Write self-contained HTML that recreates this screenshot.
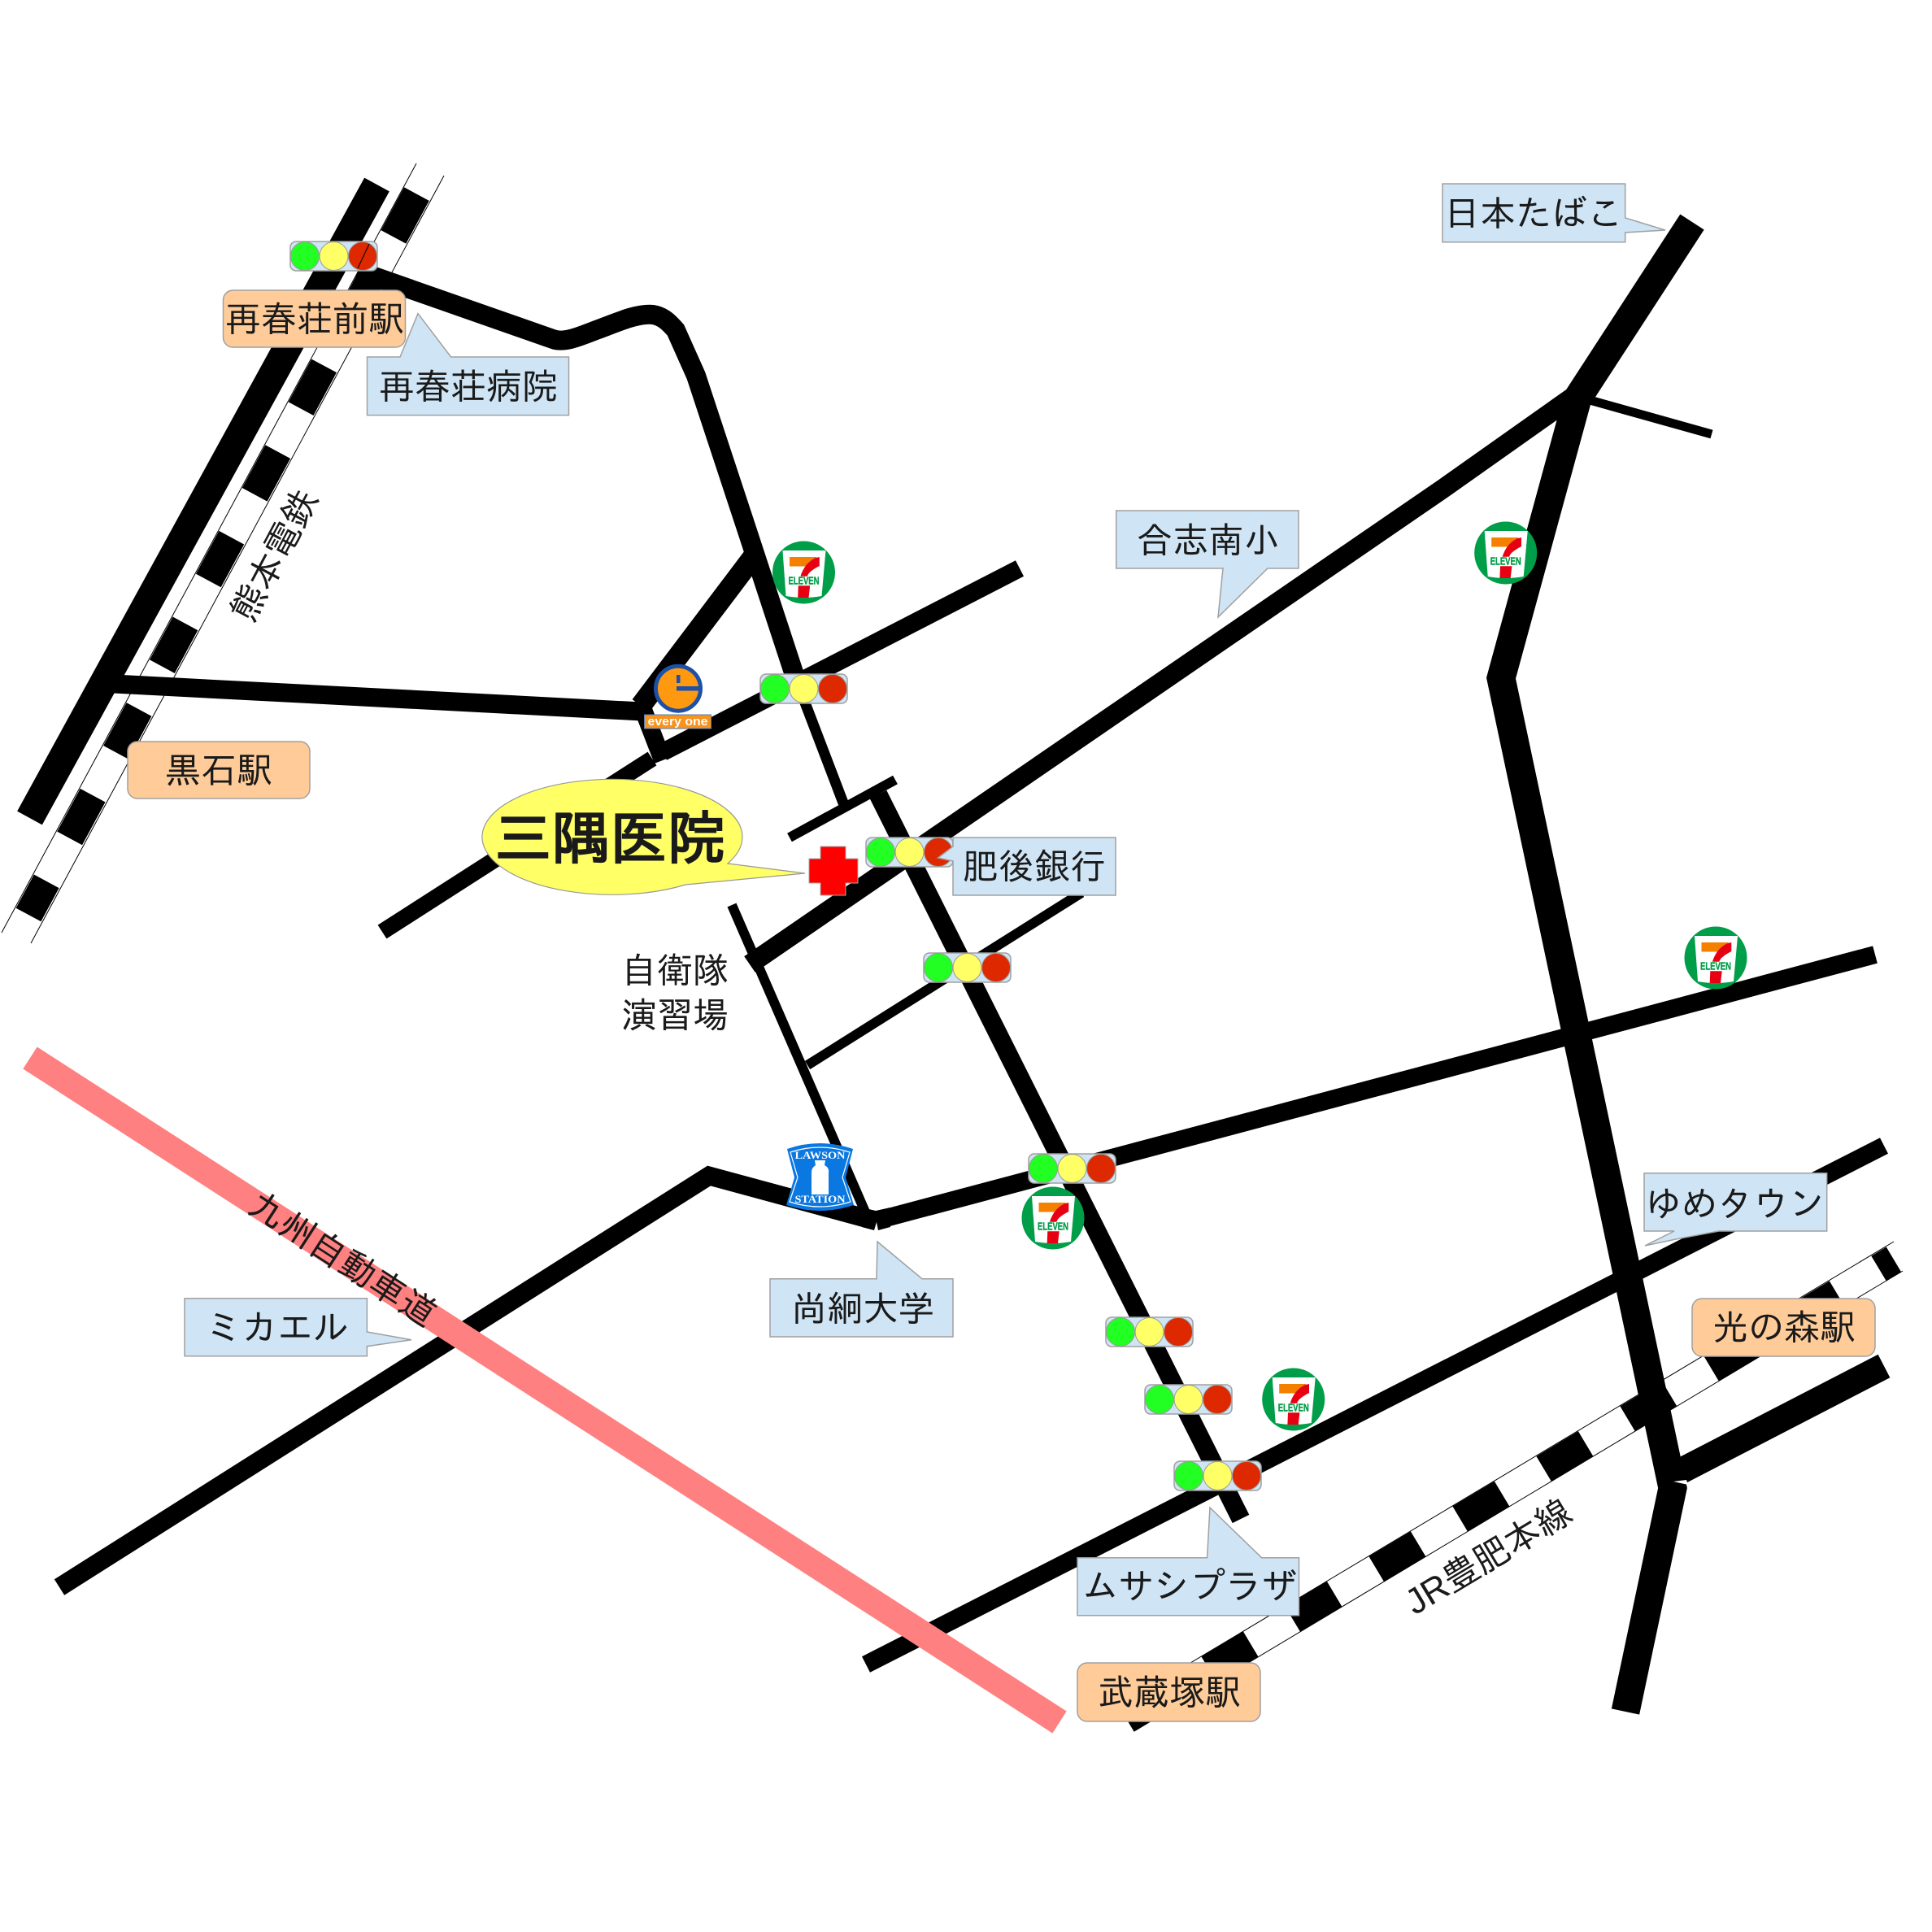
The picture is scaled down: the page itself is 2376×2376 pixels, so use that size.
<!DOCTYPE html>
<html lang="ja"><head><meta charset="utf-8"><title>三隅医院 地図</title>
<style>
html,body{margin:0;padding:0;background:#fff}
svg{display:block}
text{font-family:"Liberation Sans","IPAGothic","Noto Sans CJK JP",sans-serif;font-size:44px;fill:#1a1a1a;text-anchor:middle}
.c{fill:#cfe5f5;stroke:#a0a0a0;stroke-width:1.5}
.o{fill:#ffcc99;stroke:#a0a0a0;stroke-width:1.5}
.r{fill:none;stroke:#000;stroke-linejoin:miter}
.t{stroke:#000;stroke-width:1;fill:none}
</style></head><body>
<svg xmlns="http://www.w3.org/2000/svg" width="2376" height="2376" viewBox="0 0 2376 2376">
<defs>
<g id="tl">
<rect x="0" y="0" width="107" height="36" rx="7" fill="#cfe5f5" stroke="#a0a0a0" stroke-width="1.5"/>
<circle cx="18" cy="18" r="17.5" fill="#22ff22" stroke="#999" stroke-width="1"/>
<circle cx="53.5" cy="18" r="17.5" fill="#ffff66" stroke="#999" stroke-width="1"/>
<circle cx="89" cy="18" r="17.5" fill="#dd2800" stroke="#999" stroke-width="1"/>
</g>
<g id="se">
<circle r="38.5" fill="#009e49"/>
<path d="M-26,-27H27L22,29Q0,33 -22,29Z" fill="#fff"/>
<rect x="-17.5" y="-19" width="33" height="11.5" fill="#f58000"/>
<path d="M19.3,-19V-8C10,-3 6,0 4.3,4.7H-4C-1,-5 5,-14 15,-18Z" fill="#e60012"/>
<path d="M-6.7,16.3H7.7L6,31H-7.3Z" fill="#e60012"/>
<text x="0" y="14.7" textLength="38" lengthAdjust="spacingAndGlyphs" style="font-size:13px;font-weight:bold;fill:#009e49;stroke:#009e49;stroke-width:.4">ELEVEN</text>
</g>
</defs>
<rect width="2376" height="2376" fill="#fff"/>

<!-- Kumamoto Dentetsu rail -->
<line x1="528" y1="209.5" x2="35" y2="1125" stroke="#000" stroke-width="35" stroke-dasharray="60 60" stroke-dashoffset="87"/>
<line class="t" x1="512" y1="201" x2="2" y2="1147"/>
<line class="t" x1="546" y1="216" x2="38" y2="1160"/>

<!-- JR rail -->
<line x1="1385" y1="2113.6" x2="2329" y2="1549" stroke="#000" stroke-width="36" stroke-dasharray="60 60" stroke-dashoffset="1.5"/>
<line class="t" x1="1375.6" y1="2098" x2="2329" y2="1527"/>
<line class="t" x1="1394.4" y1="2129.3" x2="2340" y2="1563"/>

<!-- Roads -->
<line class="r" x1="463.5" y1="227" x2="36.5" y2="1006" stroke-width="35"/>
<path class="r" stroke-width="24" d="M440,333L680,417C693,422 710,415 733,406C758,397 783,385 803,387C816,389 824,398 831,406L856,462L918,650L977,830"/>
<line class="r" x1="977" y1="830" x2="1038" y2="990" stroke-width="13"/>
<line class="r" x1="1101" y1="959" x2="971" y2="1030" stroke-width="12"/>
<line class="r" x1="140" y1="841" x2="790" y2="875" stroke-width="23"/>
<line class="r" x1="930" y1="680" x2="788" y2="868" stroke-width="26"/>
<line class="r" x1="1254" y1="699" x2="815" y2="925" stroke-width="22"/>
<line class="r" x1="788" y1="865" x2="815" y2="935" stroke-width="22"/>
<line class="r" x1="802" y1="933" x2="470" y2="1146" stroke-width="20"/>
<polyline class="r" stroke-width="24" points="922,1186 1776,600 1940,484"/>
<line class="r" x1="900" y1="1113" x2="1066" y2="1495" stroke-width="12"/>
<line class="r" x1="993" y1="1310" x2="1330" y2="1098" stroke-width="12"/>
<line class="r" x1="1080" y1="977" x2="1526" y2="1868" stroke-width="23"/>
<line class="r" x1="2317" y1="1409" x2="1065" y2="2047" stroke-width="22"/>
<line class="r" x1="2306" y1="1174" x2="1078" y2="1501" stroke-width="22"/>
<polyline class="r" stroke-width="23" points="73,1952 872,1446 1075,1501"/>
<polygon points="1060,1485 1077,1489 1095,1485 1095,1509 1080,1513 1078,1503 1075,1513 1060,1509" fill="#000"/>
<polyline class="r" stroke-width="35" points="2081,273 1940,490 1846,834 2057,1830 1999,2105"/>
<line class="r" x1="1955" y1="492" x2="2105" y2="534" stroke-width="11"/>
<line class="r" x1="2317" y1="1680" x2="2050" y2="1818" stroke-width="32"/>
<polygon points="2058,1822 2074,1820 2076,1826" fill="#fff"/>

<!-- Kyushu expressway -->
<line x1="37" y1="1301" x2="1303" y2="2118" stroke="#ff8080" stroke-width="32"/>
<text x="422" y="1564" transform="rotate(33 422 1548)">九州自動車道</text>

<!-- Traffic lights -->
<use href="#tl" x="357" y="297"/>
<line class="t" x1="454" y1="300" x2="440" y2="330"/>
<use href="#tl" x="935" y="829"/>
<use href="#tl" x="1065" y="1030"/>
<use href="#tl" x="1136" y="1172"/>
<use href="#tl" x="1265" y="1419"/>
<use href="#tl" x="1360" y="1620"/>
<use href="#tl" x="1408" y="1703"/>
<use href="#tl" x="1444" y="1797"/>

<!-- 7-Eleven -->
<use href="#se" x="988.5" y="704"/>
<use href="#se" x="1851.7" y="680"/>
<use href="#se" x="2110" y="1178"/>
<use href="#se" x="1295" y="1498"/>
<use href="#se" x="1590.7" y="1721"/>

<!-- Every One -->
<circle cx="834" cy="846.7" r="27.5" fill="#ff9a10" stroke="#1e50a8" stroke-width="5"/>
<rect x="832" y="830" width="4.5" height="10" fill="#1e50a8"/>
<rect x="832" y="844" width="27" height="5.5" fill="#1e50a8"/>
<rect x="792.5" y="879" width="82" height="17" fill="#f7931e" stroke="#5a7fb8" stroke-width="1"/>
<text x="833.5" y="892" textLength="74" lengthAdjust="spacingAndGlyphs" style="font-size:15px;font-weight:bold;fill:#fff">every one</text>

<!-- Lawson -->
<path d="M968,1413Q1008,1399 1049,1413L1040,1448L1050,1482Q1008,1496 967,1482L977,1448Z" fill="#0a78e0"/>
<path d="M972,1417Q1008,1405 1045,1417L1036,1448L1046,1478Q1008,1490 971,1478L981,1448Z" fill="none" stroke="#fff" stroke-width="1.2"/>
<path d="M1002,1427H1015L1014,1433Q1020,1436 1019,1442V1469H998V1442Q998,1436 1003,1433Z" fill="#fff"/>
<text x="1008.5" y="1425" textLength="62" lengthAdjust="spacingAndGlyphs" style="font-family:'Liberation Serif',serif;font-size:13px;font-weight:bold;fill:#fff">LAWSON</text>
<text x="1008.5" y="1479" textLength="62" lengthAdjust="spacingAndGlyphs" style="font-family:'Liberation Serif',serif;font-size:13px;font-weight:bold;fill:#fff">STATION</text>

<!-- Red cross -->
<path d="M1009,1041H1040V1056H1055V1086H1040V1101H1009V1086H995V1056H1009Z" fill="#ff0000" stroke="#aaa" stroke-width="1"/>

<!-- Hospital bubble -->
<path d="M895,1062L990,1074L843,1088A160,71 0 1 1 895,1062Z" fill="#ffff66" stroke="#999" stroke-width="1.2"/>
<text x="750" y="1056" style="font-size:71px;font-weight:bold">三隅医院</text>

<!-- Station labels -->
<rect class="o" x="274.5" y="357" width="224" height="70" rx="12"/>
<text x="387" y="408">再春荘前駅</text>
<rect class="o" x="157" y="912" width="224" height="70" rx="12"/>
<text x="269" y="963">黒石駅</text>
<rect class="o" x="2081" y="1597" width="225" height="71" rx="12"/>
<text x="2194" y="1648">光の森駅</text>
<rect class="o" x="1325" y="2045" width="225" height="72" rx="12"/>
<text x="1438" y="2097">武蔵塚駅</text>

<!-- Callouts -->
<path class="c" d="M451.5,439H492L514,385.6L554.6,439H699.5V510.6H451.5Z"/>
<text x="576" y="491">再春荘病院</text>
<path class="c" d="M1372.7,628H1597V699H1559L1498,759L1504,699H1372.7Z"/>
<text x="1486" y="680">合志南小</text>
<path class="c" d="M1774,226H1998.7V268L2048,283L1998.7,286V297.7H1774Z"/>
<text x="1886" y="278">日本たばこ</text>
<path class="c" d="M1172,1030H1372V1101H1172V1059L1153.5,1055L1172,1041Z"/>
<text x="1272" y="1081">肥後銀行</text>
<path class="c" d="M2022,1442.7H2246.7V1514H2114L2061,1524L2023,1532L2059,1514H2022Z"/>
<text x="2134" y="1496">ゆめタウン</text>
<path class="c" d="M227,1596.7H451.4V1638L506,1647.7L451.4,1655.7V1667.7H227Z"/>
<text x="341" y="1648">ミカエル</text>
<path class="c" d="M947,1572.7H1078L1079,1527L1134,1572.7H1172V1644H947Z"/>
<text x="1061" y="1625">尚絅大学</text>
<path class="c" d="M1325,1915.7H1484.6L1488,1854L1551.6,1915.7H1597.5V1986.7H1325Z"/>
<text x="1463" y="1966">ムサシプラザ</text>

<!-- Free text -->
<text x="830" y="1209">自衛隊</text>
<text x="830" y="1264">演習場</text>
<text x="337" y="699" transform="rotate(-62 337 683)">熊本電鉄</text>
<text x="1830" y="1930" transform="rotate(-31 1830 1914)">JR豊肥本線</text>
</svg>
</body></html>
